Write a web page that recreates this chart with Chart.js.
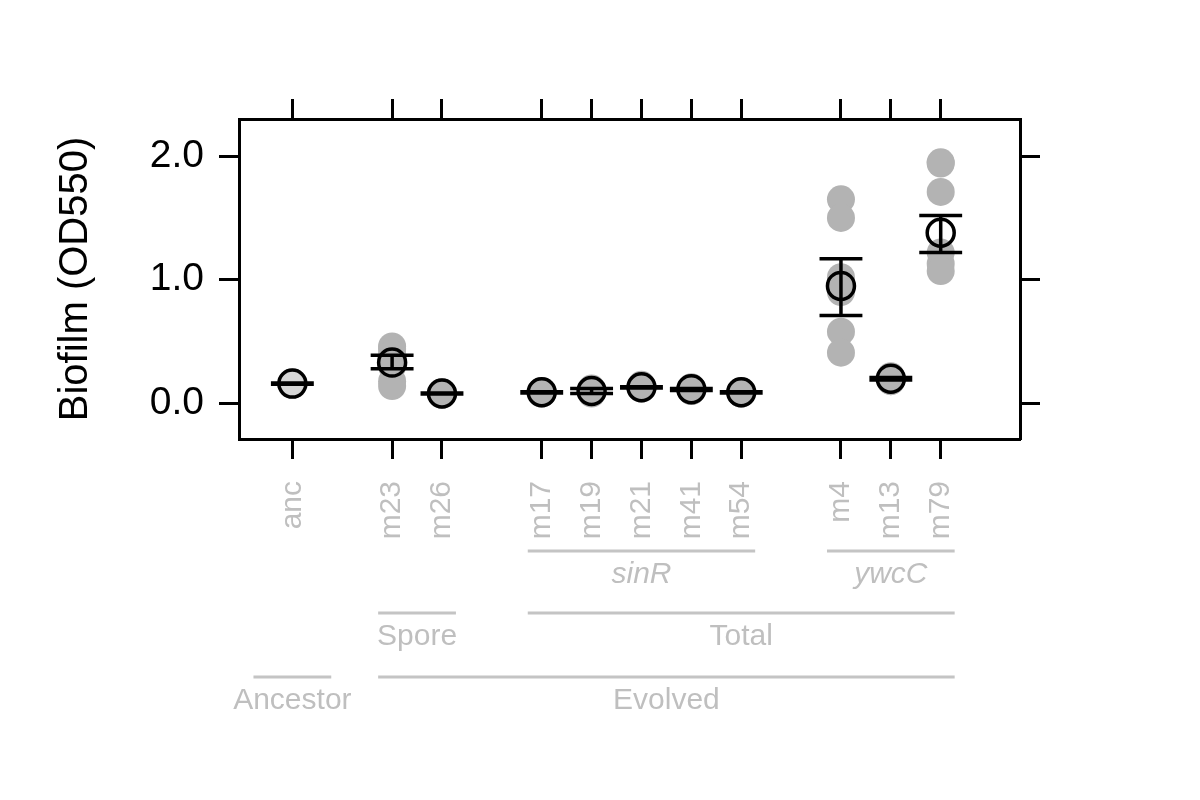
<!DOCTYPE html>
<html>
<head>
<meta charset="utf-8">
<script src="https://cdn.jsdelivr.net/npm/chart.js@4.4.0/dist/chart.umd.min.js"></script>
<style>
    html, body { margin: 0; padding: 0; background: #fff; }
    #wrap { width: 1200px; height: 800px; }
</style>
</head>
<body>
<div id="wrap"><canvas id="biofilm" width="1200" height="800"></canvas></div>
<script>
// strains and where they sit on the x axis (gaps between groups)
var strains = ['anc', 'm23', 'm26', 'm17', 'm19', 'm21', 'm41', 'm54', 'm4', 'm13', 'm79'];
var positions = [1, 3, 4, 6, 7, 8, 9, 10, 12, 13, 14];

// replicate OD550 readings, one row per strain
var replicates = [
    [0.17, 0.16, 0.15, 0.16, 0.17, 0.15],
    [0.46, 0.44, 0.40, 0.30, 0.18, 0.14],
    [0.09, 0.08, 0.07, 0.08, 0.09, 0.07],
    [0.10, 0.09, 0.08, 0.09, 0.10, 0.08],
    [0.11, 0.10, 0.08, 0.09, 0.12, 0.09],
    [0.14, 0.13, 0.12, 0.14, 0.15, 0.12],
    [0.12, 0.11, 0.10, 0.12, 0.13, 0.10],
    [0.09, 0.08, 0.08, 0.09, 0.10, 0.08],
    [1.65, 1.50, 1.02, 0.90, 0.58, 0.41],
    [0.21, 0.20, 0.18, 0.19, 0.22, 0.18],
    [1.95, 1.94, 1.71, 1.22, 1.13, 1.07]
];

// mean and error bar ends
var means   = [0.16, 0.33, 0.08, 0.09, 0.10, 0.13, 0.115, 0.09, 0.95, 0.20, 1.38];
var errLow  = [0.155, 0.28, 0.075, 0.085, 0.08, 0.125, 0.105, 0.085, 0.71, 0.19, 1.22];
var errHigh = [0.165, 0.39, 0.085, 0.095, 0.12, 0.135, 0.12, 0.095, 1.17, 0.21, 1.52];

var yTicks = [0, 1, 2];

// group annotations under the axis (spans in x positions)
var row1Names = ['sinR', 'ywcC'];
var row1Spans = [[6, 10], [12, 14]];
var row2Names = ['Spore', 'Total'];
var row2Spans = [[3, 4], [6, 14]];
var row3Names = ['Ancestor', 'Evolved'];
var row3Spans = [[1, 1], [3, 14]];

var FONT = "'Liberation Sans', Arial, Helvetica, sans-serif";
var LABEL_GREY = '#bfbfbf';

var pointData = [], pointColors = [];
replicates.forEach(function (vals, i) {
    vals.forEach(function (v) {
        pointData.push({x: positions[i], y: v});
        pointColors.push(i === 0 ? '#d6d6d6' : '#b3b3b3');
    });
});
var meanData = means.map(function (m, i) { return {x: positions[i], y: m}; });

var errorBars = {
    id: 'errorBars',
    afterDatasetsDraw: function (chart) {
        var ctx = chart.ctx, xs = chart.scales.x, ys = chart.scales.y;
        ctx.save();
        ctx.strokeStyle = '#000';
        ctx.lineWidth = 3.5;
        for (var i = 0; i < positions.length; i++) {
            var px = xs.getPixelForValue(positions[i]);
            var lo = ys.getPixelForValue(errLow[i]);
            var hi = ys.getPixelForValue(errHigh[i]);
            var half = xs.getPixelForValue(positions[i] + 0.43) - px;
            ctx.beginPath();
            ctx.moveTo(px, lo); ctx.lineTo(px, hi);
            ctx.moveTo(px - half, lo); ctx.lineTo(px + half, lo);
            ctx.moveTo(px - half, hi); ctx.lineTo(px + half, hi);
            ctx.stroke();
        }
        ctx.restore();
    }
};

function drawRow(chart, names, spans, lineY, italic) {
    var ctx = chart.ctx, xs = chart.scales.x;
    ctx.save();
    ctx.strokeStyle = '#c4c4c4';
    ctx.fillStyle = LABEL_GREY;
    ctx.lineWidth = 3;
    ctx.font = (italic ? 'italic ' : '') + '30px ' + FONT;
    ctx.textAlign = 'center';
    ctx.textBaseline = 'alphabetic';
    names.forEach(function (name, i) {
        var a = spans[i][0], b = spans[i][1];
        var mid = (a + b) / 2;
        var halfLen = Math.max((b - a) / 2 + 0.28, 0.78);
        var x1 = xs.getPixelForValue(mid - halfLen);
        var x2 = xs.getPixelForValue(mid + halfLen);
        ctx.beginPath();
        ctx.moveTo(x1, lineY); ctx.lineTo(x2, lineY);
        ctx.stroke();
        ctx.fillText(name, xs.getPixelForValue(mid), lineY + 32);
    });
    ctx.restore();
}

var groupLabels = {
    id: 'groupLabels',
    afterDraw: function (chart) {
        drawRow(chart, row1Names, row1Spans, 551, true);
        drawRow(chart, row2Names, row2Spans, 613, false);
        drawRow(chart, row3Names, row3Spans, 677, false);
    }
};

function catTicks(axis) {
    axis.ticks = positions.map(function (p) { return {value: p}; });
}
function numTicks(axis) {
    axis.ticks = yTicks.map(function (v) { return {value: v}; });
}

var xMin = -0.07, xMax = 15.59, yMin = -0.288, yMax = 2.30;
var tickGrid = {drawOnChartArea: false, drawTicks: true, tickLength: 20, tickColor: '#000', tickWidth: 3};
var box = {display: true, color: '#000', width: 3};

new Chart(document.getElementById('biofilm').getContext('2d'), {
    type: 'scatter',
    data: {
        datasets: [{
            label: 'replicates',
            order: 1,
            data: pointData,
            pointRadius: 14,
            pointBorderWidth: 0,
            pointBackgroundColor: pointColors,
            pointBorderColor: pointColors
        }, {
            label: 'mean',
            order: 0,
            data: meanData,
            pointRadius: 13.5,
            pointBorderWidth: 3.5,
            pointBackgroundColor: 'rgba(0,0,0,0)',
            pointBorderColor: '#000'
        }]
    },
    options: {
        responsive: false,
        animation: false,
        layout: {padding: 0},
        plugins: {legend: {display: false}, tooltip: {enabled: false}},
        scales: {
            x: {
                type: 'linear', position: 'bottom', min: xMin, max: xMax,
                afterBuildTicks: catTicks,
                afterFit: function (s) { s.height = 361; },
                grid: tickGrid, border: box,
                ticks: {
                    autoSkip: false, minRotation: 90, maxRotation: 90, padding: 22,
                    color: LABEL_GREY, font: {family: FONT, size: 30},
                    callback: function (v) { return strains[positions.indexOf(v)]; }
                }
            },
            xTop: {
                type: 'linear', position: 'top', min: xMin, max: xMax,
                afterBuildTicks: catTicks,
                afterFit: function (s) { s.height = 119; },
                grid: tickGrid, border: box,
                ticks: {display: false}
            },
            y: {
                type: 'linear', position: 'left', min: yMin, max: yMax,
                afterBuildTicks: numTicks,
                afterFit: function (s) { s.width = 239; },
                grid: tickGrid, border: box,
                ticks: {
                    padding: 15, color: '#000', font: {family: FONT, size: 39},
                    callback: function (v) { return v.toFixed(1); }
                },
                title: {
                    display: true, text: 'Biofilm (OD550)', color: '#000',
                    font: {family: FONT, size: 40}, padding: {top: 52, bottom: 0}
                }
            },
            yRight: {
                type: 'linear', position: 'right', min: yMin, max: yMax,
                afterBuildTicks: numTicks,
                afterFit: function (s) { s.width = 180; },
                grid: tickGrid, border: box,
                ticks: {display: false}
            }
        }
    },
    plugins: [errorBars, groupLabels]
});
</script>
</body>
</html>
